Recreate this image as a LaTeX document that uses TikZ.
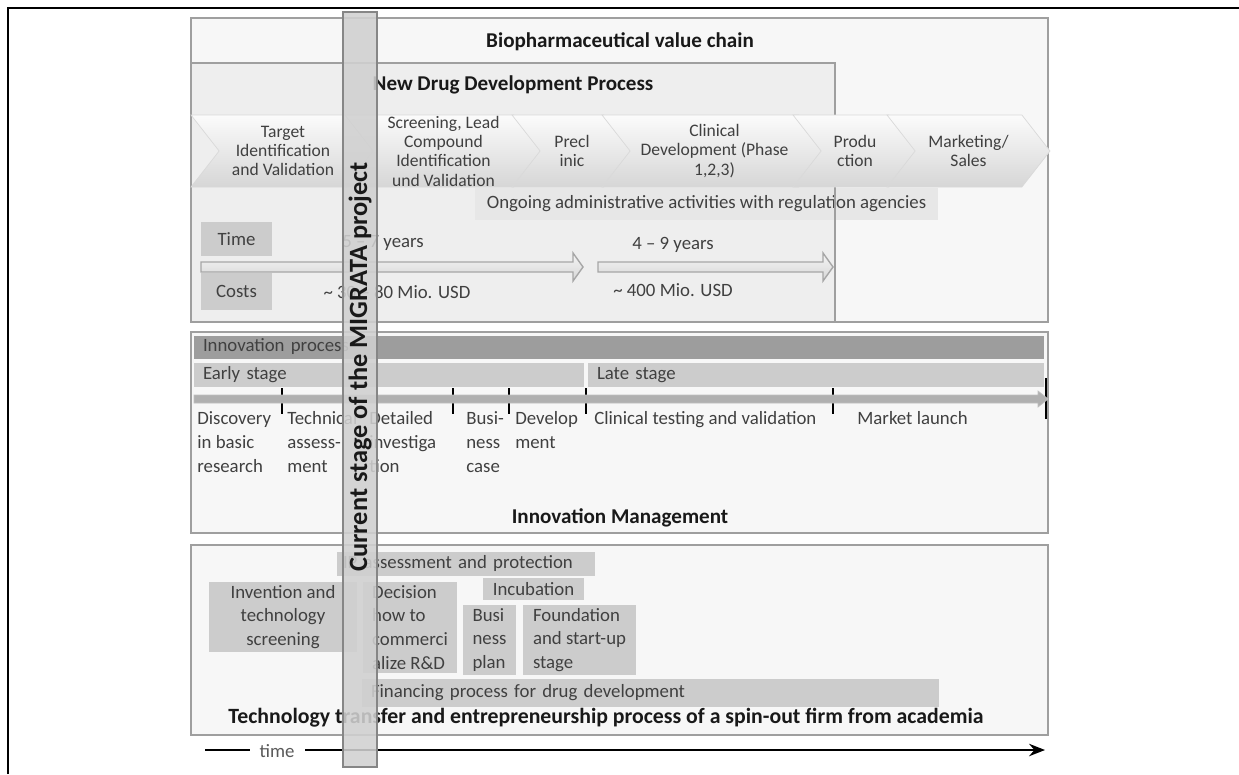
\documentclass[tikz,border=0pt]{standalone}
\usepackage{fontspec}
\setmainfont{Carlito}
\usetikzlibrary{shapes.symbols,arrows.meta,positioning}
\newcommand\pxl{0.02cm}
\tikzset{
	panel/.style={draw=gray!75, line width=1.1pt, fill=gray!6},
	chev/.style={signal, signal from=west, signal to=east, signal pointer angle=104,
		draw=gray!30, top color=gray!3, bottom color=gray!32, minimum height=72*\pxl,
		inner sep=0pt, align=center, text=black!75, font=\fontsize{10}{11}\selectfont},
	greybox/.style={fill=gray!40, inner sep=0pt, align=center, text=black!75, font=\fontsize{10.7}{13.6}\selectfont},
	leftbox/.style={greybox, align=left, inner xsep=9*\pxl},
	lbl/.style={inner sep=0pt, align=left, text=black!75, font=\fontsize{10.7}{13.6}\selectfont},
	ttl/.style={inner sep=0pt, text=black!90, font=\bfseries\fontsize{12}{14}\selectfont},
	stagetick/.style={line width=1.3pt},
	blockarrow/.style={draw=gray!70, line width=0.8pt, top color=gray!8, bottom color=gray!32},
}
\begin{document}
\begin{tikzpicture}[x=0.02cm, y=-0.02cm]
	\useasboundingbox (0,0) rectangle (1239,774);
	\draw[line width=1.7pt] (8,774) -- (8,8) -- (1239,8);
	% value chain and drug development
	\draw[panel] (191,18) rectangle (1048,322);
	\node[ttl] (chain) at (620,42) {Biopharmaceutical value chain};
	\fill[gray!13] (191,63) rectangle (835,322);
	\node[greybox, fill=gray!19, minimum width=463*\pxl, minimum height=32*\pxl] (admin) at (706.5,204) {Ongoing administrative activities with regulation agencies};
	\draw[gray!75, line width=1.1pt] (191,63) rectangle (835,322);
	\node[ttl] (drug) at (513,85) {New Drug Development Process};
	\foreach \xa/\xb/\nm/\txt in {191/375/target/{Target\\Identification\\and Validation},
			345/542/screening/{Screening, Lead\\Compound\\Identification\\und Validation},
			512/632/preclinic/{Precl\\inic},
			602/827/clinical/{Clinical\\Development (Phase\\1,2,3)},
			793/917/production/{Produ\\ction},
			887/1050/marketing/{Marketing/\\Sales}}
		\node[chev, minimum width=(\xb-\xa)*\pxl] (\nm) at ({(\xa+\xb)/2},151) {\txt};
	\node[greybox, minimum width=71*\pxl, minimum height=34*\pxl] (time) at (236.5,239) {Time};
	\node[greybox, minimum width=71*\pxl, minimum height=37*\pxl] (costs) at (236.5,291.5) {Costs};
	\draw[blockarrow] (201,262) -- (573,262) -- (573,253) -- (583,267) -- (573,281) -- (573,272) -- (201,272) -- cycle;
	\draw[blockarrow] (598,262) -- (823,262) -- (823,253) -- (833,267) -- (823,281) -- (823,272) -- (598,272) -- cycle;
	\node[lbl] (earlytime) at (383,243) {5 -- 7 years};
	\node[lbl] (earlycost) at (397,292) {\textasciitilde{} 30 -- 80 Mio. USD};
	\node[lbl] (latetime) at (673,245) {4 -- 9 years};
	\node[lbl] (latecost) at (673,290) {\textasciitilde{} 400 Mio. USD};
	% innovation management
	\draw[panel] (191,332) rectangle (1048,533);
	\node[leftbox, fill=gray!77, text width=(850-18)*\pxl, minimum height=23*\pxl] (process) at (619,347) {Innovation process};
	\node[leftbox, text width=(390-18)*\pxl, minimum height=24*\pxl] (early) at (389,375) {Early stage};
	\node[leftbox, text width=(456-18)*\pxl, minimum height=24*\pxl] (late) at (816,375) {Late stage};
	\foreach \x in {282,453,509,586,833}
		\draw[stagetick] (\x,388) -- (\x,414);
	\draw[stagetick] (1046,378) -- (1046,419);
	\draw[draw=gray!50, fill=gray!62] (194,395) -- (1038,395) -- (1038,391) -- (1048,399) -- (1038,407) -- (1038,403) -- (194,403) -- cycle;
	\node[lbl, anchor=north west] (discovery) at (197,411) {Discovery\\in basic\\research};
	\node[lbl, anchor=north west] (technical) at (287,411) {Technical\\assess-\\ment};
	\node[lbl, anchor=north west] (detailed) at (369,411) {Detailed\\investiga\\tion};
	\node[lbl, anchor=north west] (business) at (466,411) {Busi-\\ness\\case};
	\node[lbl, anchor=north west] (develop) at (515,411) {Develop\\ment};
	\node[lbl, anchor=north west] (testing) at (594,411) {Clinical testing and validation};
	\node[lbl, anchor=north west] (launch) at (857,411) {Market launch};
	\node[ttl] (innov) at (620,518) {Innovation Management};
	% technology transfer
	\draw[panel] (191,545) rectangle (1048,735);
	\node[leftbox, inner xsep=6*\pxl, text width=(258-12)*\pxl, minimum height=24*\pxl] (ip) at (466,563.5) {IP assessment and protection};
	\node[greybox, minimum width=148*\pxl, minimum height=70*\pxl] (invention) at (283,617) {Invention and\\technology\\screening};
	\node[leftbox, minimum width=94*\pxl, minimum height=91*\pxl] (decision) at (410,627.5) {Decision\\how to\\commerci\\alize R\&D};
	\node[greybox, minimum width=101*\pxl, minimum height=22*\pxl] (incubation) at (533.5,589) {Incubation};
	\node[leftbox, minimum width=53*\pxl, minimum height=70*\pxl] (bplan) at (489.5,640) {Busi\\ness\\plan};
	\node[leftbox, minimum width=113*\pxl, minimum height=70*\pxl] (foundation) at (579.5,640) {Foundation\\and start-up\\stage};
	\node[leftbox, text width=(577-18)*\pxl, minimum height=28*\pxl] (financing) at (650.5,692.5) {Financing process for drug development};
	\node[ttl, font=\bfseries\fontsize{12.4}{14}\selectfont] (transfer) at (606,718) {Technology transfer and entrepreneurship process of a spin-out firm from academia};
	% time axis
	\coordinate (t0) at (205,750);
	\coordinate (t1) at (1045,750);
	\draw[line width=1.4pt, -{Stealth[length=9pt,width=7pt]}] (t0) -- (t1);
	\node[lbl, fill=white, text=black!65, minimum width=55*\pxl, minimum height=14*\pxl] (timelbl) at (277,751) {time};
	% current stage bar
	\draw[draw=gray!95, line width=1pt, fill=gray!37, fill opacity=0.88] (343,12) rectangle (377,767);
	\node[ttl, rotate=90, font=\bfseries\fontsize{15}{17}\selectfont] (migrata) at (360,367) {Current stage of the MIGRATA project};
\end{tikzpicture}
\end{document}
